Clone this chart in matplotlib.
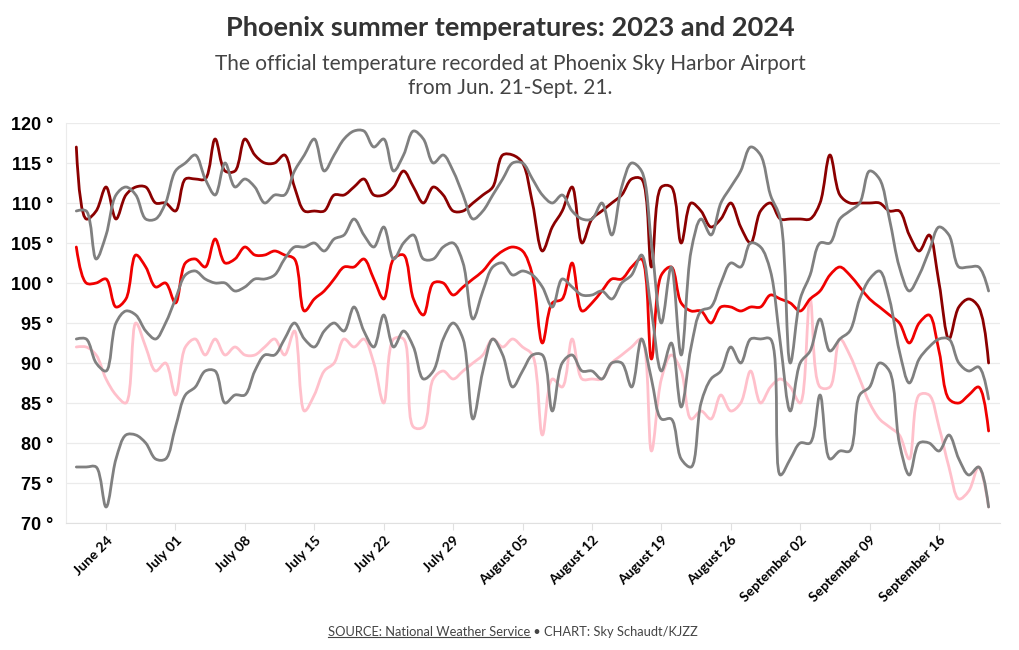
import numpy as np
import pandas as pd
import matplotlib
matplotlib.use("Agg")
import matplotlib.pyplot as plt
import matplotlib.dates as mdates
from matplotlib.path import Path
from matplotlib.patches import PathPatch
from matplotlib.lines import Line2D

# daily values, Jun 21 - Sep 21
dates = pd.date_range("2024-06-21", "2024-09-21")

high_2024 = [117, 108, 109, 112, 108, 111, 112, 112, 110, 110, 109, 113, 113, 113, 118, 114,
             114, 118, 116, 115, 115, 116, 112, 109, 109, 109, 111, 111, 112, 113, 111, 111,
             112, 114, 112, 110, 112, 111, 109, 109, 110, 111, 112, 116, 116, 115, 110, 104,
             107, 109, 112, 105, 108, 109, 110, 111, 113, 113, 102, 112, 112, 105, 110, 109,
             107, 108, 110, 107, 105, 109, 110, 108, 108, 108, 108, 110, 116, 111, 110, 110,
             110, 110, 109, 109, 106, 104, 106, 100, 93, 97, 98, 97, 90]
avg_2024 = [104.5, 100, 100, 100.5, 97, 98, 103.5, 102, 99.5, 100, 97.5, 102.5, 103, 102, 105.5, 102.5,
            103, 104.5, 103.5, 103.5, 104, 103.5, 103, 96.5, 98, 99, 100.5, 102, 102, 103, 100.5, 98,
            103, 103.5, 98, 96, 100, 100, 98.5, 99.5, 100.5, 101.5, 103, 104, 104.5, 104, 101, 92.5,
            97.5, 98, 102.5, 96.5, 97.5, 99, 100.5, 100.5, 102, 103, 90.5, 101, 102, 97.5, 96.5, 96.5,
            95, 97, 97, 96.5, 97, 97, 98.5, 98, 97.5, 96.5, 98, 99, 101, 102, 101, 99.5,
            98, 97, 96, 95, 92.5, 95, 96, 91.5, 85.5, 85, 86, 87, 81.5]
low_2024 = [92, 92, 91, 88, 86, 85, 95, 92, 89, 90, 86, 92, 93, 91, 93, 91,
            92, 91, 91, 92, 93, 91, 94, 84, 86, 89, 90, 93, 92, 93, 90, 85,
            93, 93, 82, 82, 88, 89, 88, 89, 90, 91, 93, 92, 93, 92, 91, 81,
            88, 87, 93, 88, 88, 88, 90, 91, 92, 93, 79, 88, 91, 89, 83, 84,
            83, 86, 84, 85, 89, 85, 87, 88, 87, 85, 98, 87, 87, 93, 91, 88,
            85, 83, 82, 81, 78, 86, 86, 82, 77, 73, 74, 77, 72]
high_2023 = [109, 109, 103, 106, 111, 112, 111, 108, 108, 110, 114, 115, 116, 113, 111, 115,
             112, 113, 112, 110, 111, 111, 114, 116, 118, 114, 116, 118, 119, 119, 117, 118,
             114, 116, 119, 118, 115, 116, 114, 111, 108, 109, 111, 113, 115, 115, 113, 111,
             110, 111, 109, 108, 108, 110, 106, 112, 115, 114, 105, 95, 102, 91, 104, 108,
             106, 110, 112, 114, 117, 116, 111, 108, 90, 98, 101, 105, 105, 108, 109, 110,
             114, 113, 108, 102, 99, 101, 104, 107, 106, 102, 102, 102, 99]
avg_2023 = [93, 93, 90, 89, 95, 96.5, 96, 94, 93, 95, 98, 101, 101.5, 100.5, 100, 100,
            99, 99.5, 100.5, 100.5, 101, 103, 104.5, 104.5, 105, 104, 105.5, 106, 108, 106, 104.5, 107,
            103, 105, 106, 103, 103, 104.5, 105, 102.5, 95.5, 99, 102, 102.5, 101, 101.5, 101, 99.5,
            97, 100.5, 99.5, 98.5, 98.5, 99, 98, 100, 101, 103.5, 96.5, 89, 92.5, 84.5, 92, 96.5,
            97, 100, 102.5, 102, 105, 104.5, 101.5, 92.5, 84, 90, 91.5, 95.5, 91.5, 93, 94, 98,
            100.5, 101.5, 98, 91.5, 87.5, 90.5, 92, 93, 93, 90, 89, 89.5, 85.5]
low_2023 = [77, 77, 77, 72, 78, 81, 81, 80, 78, 78, 82, 86, 87, 89, 89, 85,
            86, 86, 89, 91, 91, 93, 95, 93, 92, 94, 95, 94, 97, 94, 92, 96,
            92, 94, 92, 88, 89, 93, 95, 93, 83, 89, 93, 91, 87, 89, 91, 91,
            84, 90, 91, 89, 89, 88, 90, 90, 87, 93, 88, 83, 83, 78, 77, 85,
            88, 89, 92, 90, 93, 93, 93, 76, 78, 80, 80, 86, 78, 79, 79, 86,
            87, 90, 89, 80, 76, 80, 80, 79, 81, 78, 76, 77, 72]

series = [
    (low_2024, "pink"),
    (avg_2024, "#f00000"),
    (high_2024, "#8b0000"),
    (high_2023, "grey"),
    (avg_2023, "grey"),
    (low_2023, "grey"),
]
yticks = [70, 75, 80, 85, 90, 95, 100, 105, 110, 115, 120]


def tangent(p0, p1, p2):
    # centripetal catmull-rom tangent, same as plotly's spline shape
    d1 = p0 - p1
    d2 = p2 - p1
    a1 = np.hypot(*d1) ** 0.5
    a2 = np.hypot(*d2) ** 0.5
    num = a2 * a2 * d1 - a1 * a1 * d2
    den1 = 3 * a2 * (a1 + a2)
    den2 = 3 * a1 * (a1 + a2)
    c_in = p1 + (num / den1 if den1 else 0)
    c_out = p1 - (num / den2 if den2 else 0)
    return c_in, c_out


def spline_path(ax, x, y):
    pts = ax.transData.transform(np.column_stack([x, y]))
    tans = [tangent(pts[i - 1], pts[i], pts[i + 1]) for i in range(1, len(pts) - 1)]
    verts = [pts[0], tans[0][0], pts[1]]
    codes = [Path.MOVETO, Path.CURVE3, Path.CURVE3]
    for i in range(2, len(pts) - 1):
        verts += [tans[i - 2][1], tans[i - 1][0], pts[i]]
        codes += [Path.CURVE4] * 3
    verts += [tans[-1][1], pts[-1]]
    codes += [Path.CURVE3] * 2
    verts = ax.transData.inverted().transform(np.array(verts))
    return Path(verts, codes)


fig = plt.figure(figsize=(10.2, 6.5), dpi=100)
ax = fig.add_axes([66 / 1020, 1 - 523 / 650, 934 / 1020, 400 / 650])

xnum = mdates.date2num(dates)
ax.set_xlim(xnum[0] - 1.04, xnum[-1] + 1.15)
ax.set_ylim(70, 120)

for vals, col in series:
    p = spline_path(ax, xnum, vals)
    ax.add_patch(PathPatch(p, fill=False, edgecolor=col, lw=2.0, capstyle="round",
                           joinstyle="round", zorder=3))

ax.set_yticks(yticks)
ax.set_yticklabels([f"{v} °" for v in yticks], fontfamily="Liberation Sans",
                   fontweight="bold", fontsize=13, color="black")
ax.tick_params(axis="y", length=0, pad=9)
ax.grid(axis="y", color="#ebebeb", lw=0.9)
ax.set_axisbelow(True)

ax.xaxis.set_major_locator(mdates.WeekdayLocator(byweekday=mdates.MO))
ax.xaxis.set_major_formatter(mdates.DateFormatter("%B %d"))
for lab in ax.get_xticklabels():
    lab.set_rotation(45)
    lab.set_ha("right")
    lab.set_va("top")
    lab.set_rotation_mode("anchor")
    lab.set_fontfamily("Lato")
    lab.set_fontweight("bold")
    lab.set_fontsize(10)
ax.tick_params(axis="x", length=5, color="#e0e0e0", pad=3)

for s in ["top", "right"]:
    ax.spines[s].set_visible(False)
ax.spines["left"].set_color("#ebebeb")
ax.spines["bottom"].set_color("#e0e0e0")

fig.text(0.5, 1 - 28 / 650, "Phoenix summer temperatures: 2023 and 2024", ha="center",
         va="center", fontfamily="Lato", fontweight="bold", fontsize=19.5, color="#333333")
fig.text(0.5, 1 - 76 / 650, "The official temperature recorded at Phoenix Sky Harbor Airport\nfrom Jun. 21-Sept. 21.",
         ha="center", va="center", fontfamily="Lato", fontsize=15, color="#444444",
         linespacing=1.2)

src = fig.text(530 / 1020, 1 - 632 / 650, "SOURCE: National Weather Service", ha="right",
               va="center", fontfamily="Lato", fontsize=9.3, color="#444444")
fig.text(530 / 1020, 1 - 632 / 650, " \u2022 CHART: Sky Schaudt/KJZZ", ha="left",
         va="center", fontfamily="Lato", fontsize=9.3, color="#444444")

# underline the source
fig.canvas.draw()
bb = src.get_window_extent(fig.canvas.get_renderer()).transformed(fig.transFigure.inverted())
fig.add_artist(Line2D([bb.x0, bb.x1], [bb.y0 + 0.002, bb.y0 + 0.002], color="#444444",
                      lw=0.8, transform=fig.transFigure))

fig.savefig("out.png", dpi=100)
